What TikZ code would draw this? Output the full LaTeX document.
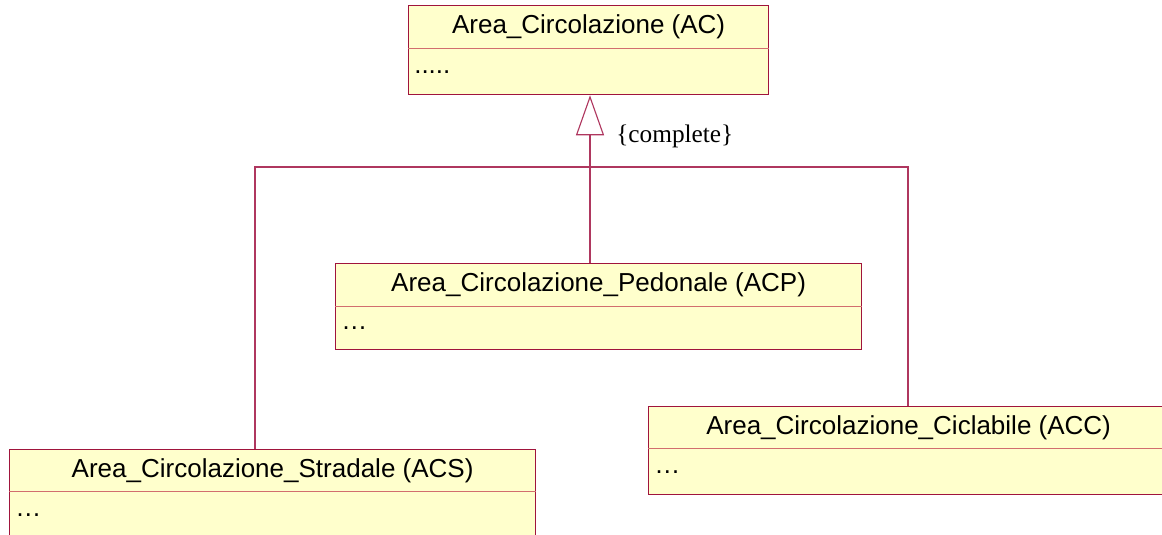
\documentclass[tikz,border=0pt]{standalone}
\usepackage{fontspec}
\setmainfont{Liberation Serif}
\newfontfamily\arialfont{Liberation Sans}
\usetikzlibrary{arrows.meta}
\definecolor{umlfill}{RGB}{255,255,204}
\definecolor{umlborder}{RGB}{160,20,60}
\definecolor{umldiv}{RGB}{210,110,110}
\definecolor{umllink}{RGB}{175,55,95}
\begin{document}
\begin{tikzpicture}[
  cls/.style={draw=umlborder, fill=umlfill, line width=0.9pt, inner sep=0pt, anchor=north west},
  head/.style={inner sep=0pt, anchor=north, font=\arialfont\fontsize{18.5}{22}\selectfont},
  body/.style={inner sep=0pt, anchor=north west, xshift=0.15cm, font=\arialfont\fontsize{18.5}{22}\selectfont},
  divline/.style={draw=umldiv, line width=0.8pt},
  link/.style={draw=umllink, line width=0.8pt}]
\useasboundingbox (0,0) rectangle (29.05,-13.35);
% classes
\node[cls, minimum width=9cm, minimum height=2.225cm] (AC) at (10.2,-0.125) {};
\node[head, minimum width=9cm, minimum height=1.075cm] (ACh) at (AC.north) {Area\_Circolazione (AC)};
\node[body, minimum height=1.15cm] (ACb) at (ACh.south -| AC.west) {.....};
\draw[divline] (AC.west |- ACh.south) -- (AC.east |- ACh.south);
\node[cls, minimum width=13.15cm, minimum height=2.15cm] (ACP) at (8.375,-6.575) {};
\node[head, minimum width=13.15cm, minimum height=1.075cm] (ACPh) at (ACP.north) {Area\_Circolazione\_Pedonale (ACP)};
\node[body, minimum height=1.075cm] (ACPb) at (ACPh.south -| ACP.west) {\dots};
\draw[divline] (ACP.west |- ACPh.south) -- (ACP.east |- ACPh.south);
\node[cls, minimum width=13cm, minimum height=2.2cm] (ACC) at (16.2,-10.15) {};
\node[head, minimum width=13cm, minimum height=1.05cm] (ACCh) at (ACC.north) {Area\_Circolazione\_Ciclabile (ACC)};
\node[body, minimum height=1.15cm] (ACCb) at (ACCh.south -| ACC.west) {\dots};
\draw[divline] (ACC.west |- ACCh.south) -- (ACC.east |- ACCh.south);
\node[cls, minimum width=13.15cm, minimum height=2.25cm] (ACS) at (0.225,-11.225) {};
\node[head, minimum width=13.15cm, minimum height=1.05cm] (ACSh) at (ACS.north) {Area\_Circolazione\_Stradale (ACS)};
\node[body, minimum height=1.15cm] (ACSb) at (ACSh.south -| ACS.west) {\dots};
\draw[divline] (ACS.west |- ACSh.south) -- (ACS.east |- ACSh.south);
% generalization
\coordinate (jn) at (14.75,-4.175);
\coordinate (jl) at (6.375,-4.175);
\coordinate (jr) at (22.7,-4.175);
\draw[link] (jl |- ACS.north) -- (jl) -- (jr) -- (jr |- ACC.north);
\draw[link] (jn |- ACP.north) -- (jn);
\draw[link, -{Triangle[open, length=1cm, width=0.7cm, line width=0.8pt]}] (jn) -- (jn |- AC.south);
\node[anchor=west, font=\fontsize{18}{22}\selectfont, inner sep=0pt] (cmpl) at (15.4,-3.42) {\{complete\}};
\end{tikzpicture}
\end{document}
